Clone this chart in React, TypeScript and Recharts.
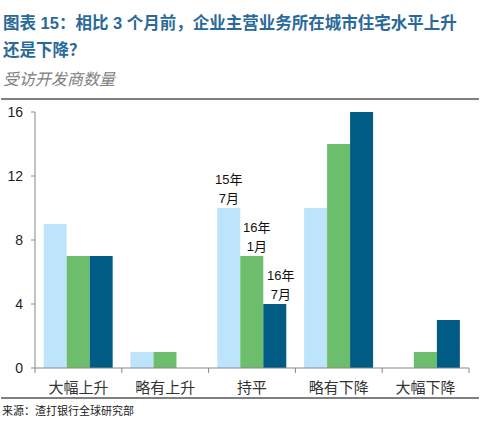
import React from "react";
import { BarChart, Bar, XAxis, YAxis, LabelList } from "recharts";

const categories = ["大幅上升", "略有上升", "持平", "略有下降", "大幅下降"];
const seriesKeys = ["jul15", "jan16", "jul16"];
const seriesLabels = [["15年", "7月"], ["16年", "1月"], ["16年", "7月"]];
const jul15 = [9, 1, 10, 10, 0];
const jan16 = [7, 1, 7, 14, 1];
const jul16 = [7, 0, 4, 16, 3];
const yTicks = [0, 4, 8, 12, 16];
const labelCategory = "持平";

const colors = ["#BDE4FB", "#6DBE6C", "#005B85"];
const labelDx = [0, 5, 6];

const data = categories.map((c, i) => ({
  name: c,
  jul15: jul15[i],
  jan16: jan16[i],
  jul16: jul16[i],
}));

const FONT = "'Liberation Sans', Arial, 'Noto Sans CJK SC', sans-serif";

const XTick = (props: any) => {
  const { x, y, payload, index } = props;
  const half = payload.offset || 0;
  const axisY = y - 5 - 9;
  return (
    <g>
      <line x1={x - half} x2={x - half} y1={axisY} y2={axisY + 5} stroke="#888" />
      {index === categories.length - 1 && (
        <line x1={x + half} x2={x + half} y1={axisY} y2={axisY + 5} stroke="#888" />
      )}
      <text x={x} y={y} dy="0.71em" textAnchor="middle" fontSize={15} fill="#333" fontFamily={FONT}>
        {payload.value}
      </text>
    </g>
  );
};

const makeLabel = (si: number) => (props: any) => {
  const { x, y, width, value } = props;
  if (value !== labelCategory) return null;
  const cx = x + width / 2 + labelDx[si];
  return (
    <g>
      <text x={cx} y={y - 24} textAnchor="middle" fontSize={13} fill="#111" fontFamily={FONT}>
        {seriesLabels[si][0]}
      </text>
      <text x={cx} y={y - 5} textAnchor="middle" fontSize={13} fill="#111" fontFamily={FONT}>
        {seriesLabels[si][1]}
      </text>
    </g>
  );
};

export default function App() {
  return (
    <div style={{ position: "absolute", left: 0, top: 0, width: 483, height: 429, background: "#fff", fontFamily: FONT }}>
      <div style={{ position: "absolute", left: 3, top: 11, fontSize: 16.5, fontWeight: "bold", color: "#2A6A9B", whiteSpace: "nowrap", lineHeight: "24px" }}>
        图表 15：相比 3 个月前，企业主营业务所在城市住宅水平上升
      </div>
      <div style={{ position: "absolute", left: 3, top: 38, fontSize: 16.5, fontWeight: "bold", color: "#2A6A9B", whiteSpace: "nowrap", lineHeight: "24px" }}>
        还是下降？
      </div>
      <div style={{ position: "absolute", left: 3, top: 68, fontSize: 16, fontStyle: "italic", color: "#808080", whiteSpace: "nowrap", lineHeight: "24px" }}>
        受访开发商数量
      </div>
      <div style={{ position: "absolute", left: 1, top: 98, width: 478, height: 2, background: "#808080" }} />
      <div style={{ position: "absolute", left: 0, top: 100 }}>
        <BarChart
          width={483}
          height={300}
          data={data}
          margin={{ top: 12, right: 14, left: 5, bottom: 2 }}
          barCategoryGap="10%"
          barGap={0}
        >
          <XAxis
            dataKey="name"
            stroke="#888"
            tickLine={false}
            tickSize={5}
            tickMargin={9}
            height={30}
            tick={<XTick />}
            interval={0}
          />
          <YAxis
            domain={[0, 16]}
            ticks={yTicks}
            width={30}
            stroke="#888"
            tickSize={4}
            tickMargin={8}
            tick={{ fontSize: 14, fill: "#222", fontFamily: FONT }}
            allowDataOverflow
          />
          {seriesKeys.map((k, si) => (
            <Bar key={k} dataKey={k} fill={colors[si]} isAnimationActive={false}>
              <LabelList dataKey="name" content={makeLabel(si)} />
            </Bar>
          ))}
        </BarChart>
      </div>
      <div style={{ position: "absolute", left: 1, top: 397, width: 478, height: 2, background: "#808080" }} />
      <div style={{ position: "absolute", left: 2, top: 403, fontSize: 11, color: "#222", whiteSpace: "nowrap", lineHeight: "16px" }}>
        来源：渣打银行全球研究部
      </div>
    </div>
  );
}
